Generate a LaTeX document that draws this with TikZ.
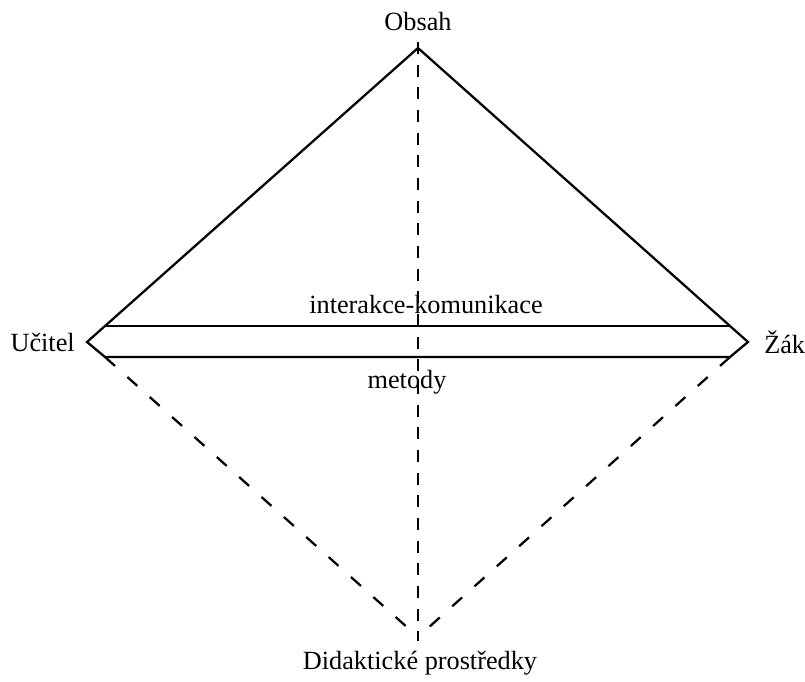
\documentclass[tikz,border=0pt]{standalone}
\usepackage{fontspec}
\setmainfont{Liberation Serif}
\begin{document}
\begin{tikzpicture}[x=0.75pt,y=-0.75pt,
  solidline/.style={line width=1.7pt, line join=miter},
  vdash/.style={line width=1.7pt, dash pattern=on 9pt off 8pt},
  ddash/.style={line width=1.7pt, dash pattern=on 10pt off 12.5pt},
  lbl/.style={font=\fontsize{19.7pt}{23pt}\selectfont, inner sep=0pt}]
\useasboundingbox (0,0) rectangle (805,681);
% vertices
\coordinate (T) at (418,48);
\coordinate (UL) at (105,326);
\coordinate (UR) at (730,326);
\coordinate (L) at (87,342);
\coordinate (R) at (748,342);
\coordinate (LL) at (105,357);
\coordinate (LR) at (730,357);
\coordinate (B) at (418,637);
\coordinate (VT) at (418,42);
\coordinate (VB) at (418,641);
% solid shape
\draw[solidline] (UL) -- (T) -- (UR);
\draw[solidline] (UL) -- (UR);
\draw[solidline] (UL) -- (L) -- (LL) -- (LR) -- (R) -- (UR);
% dashed lines
\draw[vdash] (VT) -- (VB);
\draw[ddash] (LL) -- (B);
\draw[ddash] (LR) -- (B);
% labels
\node[lbl] (obsah) at (418,22) {Obsah};
\node[lbl, anchor=east] (ucitel) at (75,342) {Učitel};
\node[lbl, anchor=west] (zak) at (764,342) {Žák};
\node[lbl] (inter) at (426,305) {interakce-komunikace};
\node[lbl] (metody) at (407,382) {metody};
\node[lbl] (didak) at (420,663) {Didaktické prostředky};
\end{tikzpicture}
\end{document}
